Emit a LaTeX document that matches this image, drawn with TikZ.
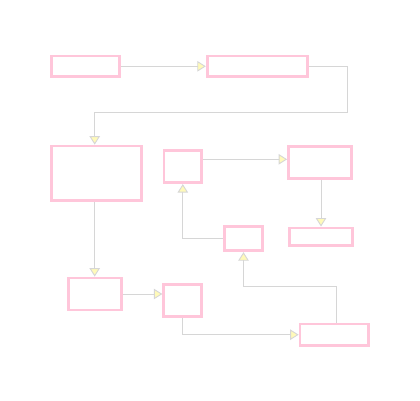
\documentclass[tikz,border=0pt]{standalone}
\usepackage{xcolor}
\usepackage{tikz}
\usetikzlibrary{positioning,arrows.meta}
\definecolor{boxpink}{RGB}{255,198,218}
\definecolor{wire}{RGB}{214,214,214}
\definecolor{tipfill}{RGB}{255,250,185}

\begin{document}
\begin{tikzpicture}[x=1pt, y=-1pt,
		blk/.style={draw=boxpink, line width=2.8pt, fill=white, inner sep=0pt},
		arr/.style={-{Triangle[length=8.5pt, width=10.5pt, fill=tipfill]}, draw=wire, line width=0.9pt}]
		\useasboundingbox (0,0) rectangle (420,400);
		% top row
		\node[blk, minimum width=68pt, minimum height=20.5pt] (start) at (85.5,66.3) {};
		\node[blk, minimum width=100pt, minimum height=20.5pt] (wide) at (257.2,66.3) {};
		% middle
		\node[blk, minimum width=90pt, minimum height=54.5pt] (big) at (96.5,173.3) {};
		\node[blk, minimum width=37.5pt, minimum height=32pt] (sq) at (182.8,166.7) {};
		\node[blk, minimum width=63pt, minimum height=32pt] (rt) at (320,162.5) {};
		\node[blk, minimum width=63pt, minimum height=17.5pt] (rtlow) at (321,236.7) {};
		\node[blk, minimum width=38.5pt, minimum height=24.5pt] (mid) at (243.5,238.5) {};
		% bottom
		\node[blk, minimum width=53pt, minimum height=32pt] (low) at (94.7,294) {};
		\node[blk, minimum width=37.5pt, minimum height=32pt] (lowsq) at (182.5,300.3) {};
		\node[blk, minimum width=68.5pt, minimum height=21.5pt] (end) at (334.3,334.7) {};
		\coordinate (turn) at (347,112);
		\coordinate (back) at (0,286);
		\draw[arr] (start.east) -- (start.east -| wide.west);
		\draw[arr] (wide.east) -| (turn) -| (low.north |- big.north);
		\draw[arr] (big.south -| low.north) -- (low.north);
		\draw[arr] ([yshift=7.4pt]sq.east) -- ([yshift=7.4pt]sq.east -| rt.west);
		\draw[arr] (rt.south -| rtlow.north) -- (rtlow.north);
		\draw[arr] (mid.west) -| (sq.south);
		\draw[arr] (low.east) -- (low.east -| lowsq.west);
		\draw[arr] (lowsq.south) |- (end.west);
		\draw[arr] ([xshift=1.7pt]end.north) -- ([xshift=1.7pt]end.north |- back) -| (mid.south);
	\end{tikzpicture}
\end{document}
